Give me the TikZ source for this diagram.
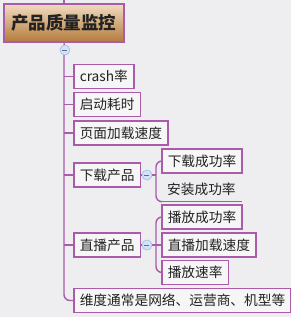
\documentclass[tikz,border=0pt]{standalone}
\usepackage{fontspec}
\setmainfont{Noto Sans CJK SC}
\usetikzlibrary{calc}
\definecolor{bgc}{HTML}{EEEEF1}
\definecolor{purp}{HTML}{A85CAA}
\definecolor{boxfill}{HTML}{F6F6F6}
\definecolor{rtop}{HTML}{F1DCC0}
\definecolor{rbot}{HTML}{B37A3B}
\definecolor{txt}{HTML}{222222}
\definecolor{cfill}{HTML}{D2E2F8}
\definecolor{cdraw}{HTML}{9DBBE6}
\tikzset{
  topic/.style={draw=purp, line width=1.6pt, fill=boxfill, anchor=west, inner xsep=6pt, inner ysep=0pt, minimum height=24pt, text=txt, font=\fontsize{13.7}{15}\selectfont},
  plain/.style={anchor=west, inner xsep=6pt, inner ysep=0pt, minimum height=24pt, text=txt, font=\fontsize{13.7}{15}\selectfont},
  conn/.style={draw=purp, line width=1.4pt},
  collapse/.style={circle, draw=cdraw, fill=cfill, line width=0.6pt, minimum size=10pt, inner sep=0pt},
}
\begin{document}
\begin{tikzpicture}[x=1pt,y=-1pt]
\useasboundingbox (0,0) rectangle (291,317);
\fill[bgc] (0,0) rectangle (291,317);
% root
\node[draw=purp, line width=2pt, top color=rtop, bottom color=rbot, minimum width=120pt, minimum height=38.5pt, inner sep=0pt, text=txt, font=\fontsize{17.5}{20}\selectfont\bfseries] (root) at (64,23) {产品质量监控};
\coordinate (top) at (64,0);
\draw[conn] (top) -- (root.north);
\node[collapse] (c0) at (65,50) {};
\draw[cdraw!60!black, line width=0.7pt] ($(c0)+(-2.5,0)$) -- ($(c0)+(2.5,0)$);
\draw[conn] (root.south) -- (c0);
% level 1
\node[topic] (n1) at (73,76.5) {crash率};
\node[topic] (n2) at (73,104.5) {启动耗时};
\node[topic] (n3) at (73,133) {页面加载速度};
\node[topic] (n4) at (73,175) {下载产品};
\node[topic] (n5) at (73,245) {直播产品};
\node[topic] (n6) at (73,300.5) {维度通常是网络、运营商、机型等};
\coordinate (tb) at (64,55);
\draw[conn, rounded corners=6pt] (tb) |- (n6.west);
\foreach \n in {n1,n2,n3,n4,n5}{
  \draw[conn] (\n.west -| tb) -- (\n.west);
}
% download children
\node[topic] (d1) at (161,161) {下载成功率};
\node[plain] (d2) at (161,189.5) {安装成功率};
\draw[conn] (d2.south west) -- (d2.south east);
\node[collapse] (c1) at (147,175) {};
\draw[cdraw!60!black, line width=0.7pt] ($(c1)+(-2.5,0)$) -- ($(c1)+(2.5,0)$);
\draw[conn] (n4.east) -- (c1);
\coordinate (k1) at (156,175);
\draw[conn] (c1) -- (k1);
\draw[conn, rounded corners=6pt] (k1) |- (d1.west);
\draw[conn, rounded corners=6pt] (k1) |- (d2.south west);
% live children
\node[topic] (l1) at (161,217) {播放成功率};
\node[topic] (l2) at (161,245) {直播加载速度};
\node[topic] (l3) at (161,272.5) {播放速率};
\node[collapse] (c2) at (147,245) {};
\draw[cdraw!60!black, line width=0.7pt] ($(c2)+(-2.5,0)$) -- ($(c2)+(2.5,0)$);
\draw[conn] (n5.east) -- (c2);
\coordinate (k2) at (156,245);
\draw[conn] (c2) -- (k2);
\draw[conn, rounded corners=6pt] (k2) |- (l1.west);
\draw[conn] (k2) -- (l2.west);
\draw[conn, rounded corners=6pt] (k2) |- (l3.west);
\end{tikzpicture}
\end{document}
